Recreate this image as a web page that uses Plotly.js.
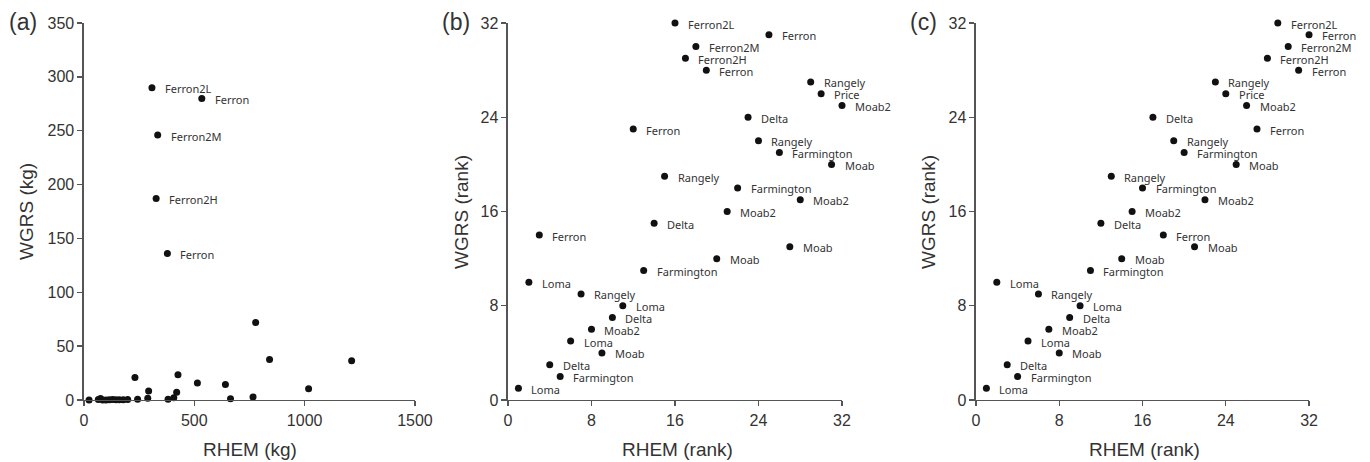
<!DOCTYPE html>
<html>
<head>
<meta charset="utf-8">
<script src="https://cdn.plot.ly/plotly-3.0.1.min.js"></script>
<style>html,body{margin:0;padding:0;background:#fff;}#chart{width:1370px;height:462px;}</style>
</head>
<body>
<div id="chart"></div>
<script>
// Sites ordered by WGRS rank (32 down to 1)
const sites = ['Ferron2L','Ferron','Ferron2M','Ferron2H','Ferron','Rangely','Price','Moab2','Delta','Ferron',
  'Rangely','Farmington','Moab','Rangely','Farmington','Moab2','Moab2','Delta','Ferron','Moab',
  'Moab','Farmington','Loma','Rangely','Loma','Delta','Moab2','Loma','Moab','Delta','Farmington','Loma'];
const wgrsRank = [32,31,30,29,28,27,26,25,24,23,22,21,20,19,18,17,16,15,14,13,12,11,10,9,8,7,6,5,4,3,2,1];
const rhemRankB = [16,25,18,17,19,29,30,32,23,12,24,26,31,15,22,28,21,14,3,27,20,13,2,7,11,10,8,6,9,4,5,1];
const rhemRankC = [29,32,30,28,31,23,24,26,17,27,19,20,25,13,16,22,15,12,18,21,14,11,2,6,10,9,7,5,8,3,4,1];
const rhemKg = [308,534,334,327,378,778,841,1213,426,231,514,641,1018,293,420,766,407,289,75,664,381,243,65,130,198,178,145,115,160,85,100,23];
const wgrsKg = [290,280,246,187,136,72,37.6,36.4,23.5,21,15.7,14.5,10.5,8.3,7.1,2.8,2.0,1.6,1.3,1.1,0.8,0.6,0.5,0.45,0.38,0.3,0.25,0.18,0.12,0.08,0.05,0.02];
const labelsA = ['Ferron2L','Ferron','Ferron2M','Ferron2H','Ferron','','','','','','','','','','','','','','','','','','','','','','','','','','',''];
const kgTicks = {x:[0,500,1000,1500], y:[0,50,100,150,200,250,300,350]};
const rankTicks = [0,8,16,24,32];

const axisCol = '#555';
const tickFont = {family:'Liberation Sans, Arial, sans-serif', size:16, color:'#333'};
const titleFont = {family:'Liberation Sans, Arial, sans-serif', size:19, color:'#333'};
const ptFont = {family:'Noto Sans, sans-serif', size:11, color:'#333'};

function axis(dom, range, ticks, anchor){
  return {domain:dom, range:range, tickvals:ticks, ticktext:ticks.map(String), showline:true, linecolor:axisCol, linewidth:1.5,
    ticks:'outside', ticklen:5, tickwidth:1.3, tickcolor:axisCol, showgrid:false, zeroline:false, tickfont:tickFont,
    anchor:anchor, fixedrange:true};
}
const yDom = [0.1342, 0.9502];
const mk = {color:'#111', size:7};
const traces = [
  {x:rhemKg, y:wgrsKg, mode:'markers', type:'scatter', marker:mk, xaxis:'x', yaxis:'y', cliponaxis:false, hoverinfo:'skip'},
  {x:rhemRankB, y:wgrsRank, mode:'markers', type:'scatter', marker:mk, xaxis:'x2', yaxis:'y2', cliponaxis:false, hoverinfo:'skip'},
  {x:rhemRankC, y:wgrsRank, mode:'markers', type:'scatter', marker:mk, xaxis:'x3', yaxis:'y3', cliponaxis:false, hoverinfo:'skip'}
];
const ann = [];
function ptLabel(xref, yref, x, y, t){
  if(!t) return;
  ann.push({xref:xref, yref:yref, x:x, y:y, text:t, showarrow:false, xanchor:'left', yanchor:'middle', xshift:11, yshift:-1, font:ptFont});
}
for(let i=0;i<sites.length;i++){
  ptLabel('x','y',rhemKg[i],wgrsKg[i],labelsA[i]);
  ptLabel('x2','y2',rhemRankB[i],wgrsRank[i],sites[i]);
  ptLabel('x3','y3',rhemRankC[i],wgrsRank[i],sites[i]);
}
function paperText(xp, yp, t, font, angle){
  ann.push({xref:'paper', yref:'paper', x:xp/1370, y:1-yp/462, text:t, showarrow:false, xanchor:'center', yanchor:'middle', font:font, textangle:angle||0});
}
const panelFont = {family:'Liberation Sans, Arial, sans-serif', size:23, color:'#333'};
paperText(23,22,'(a)',panelFont);
paperText(456,22,'(b)',panelFont);
paperText(923,22,'(c)',panelFont);
paperText(26,212,'WGRS (kg)',titleFont,-90);
paperText(461,212,'WGRS (rank)',titleFont,-90);
paperText(928,212,'WGRS (rank)',titleFont,-90);
paperText(250,449,'RHEM (kg)',titleFont);
paperText(677,449,'RHEM (rank)',titleFont);
paperText(1144,449,'RHEM (rank)',titleFont);

const layout = {
  width:1370, height:462, margin:{l:0,r:0,t:0,b:0}, showlegend:false,
  paper_bgcolor:'#fff', plot_bgcolor:'#fff',
  xaxis: axis([0.0613,0.3029],[0,1500],kgTicks.x,'y'),
  yaxis: axis(yDom,[0,350],kgTicks.y,'x'),
  xaxis2: axis([0.3708,0.6146],[0,32],rankTicks,'y2'),
  yaxis2: axis(yDom,[0,32],rankTicks,'x2'),
  xaxis3: axis([0.7124,0.9555],[0,32],rankTicks,'y3'),
  yaxis3: axis(yDom,[0,32],rankTicks,'x3'),
  annotations: ann
};
Plotly.newPlot('chart', traces, layout, {staticPlot:true, displayModeBar:false});
</script>
</body>
</html>
